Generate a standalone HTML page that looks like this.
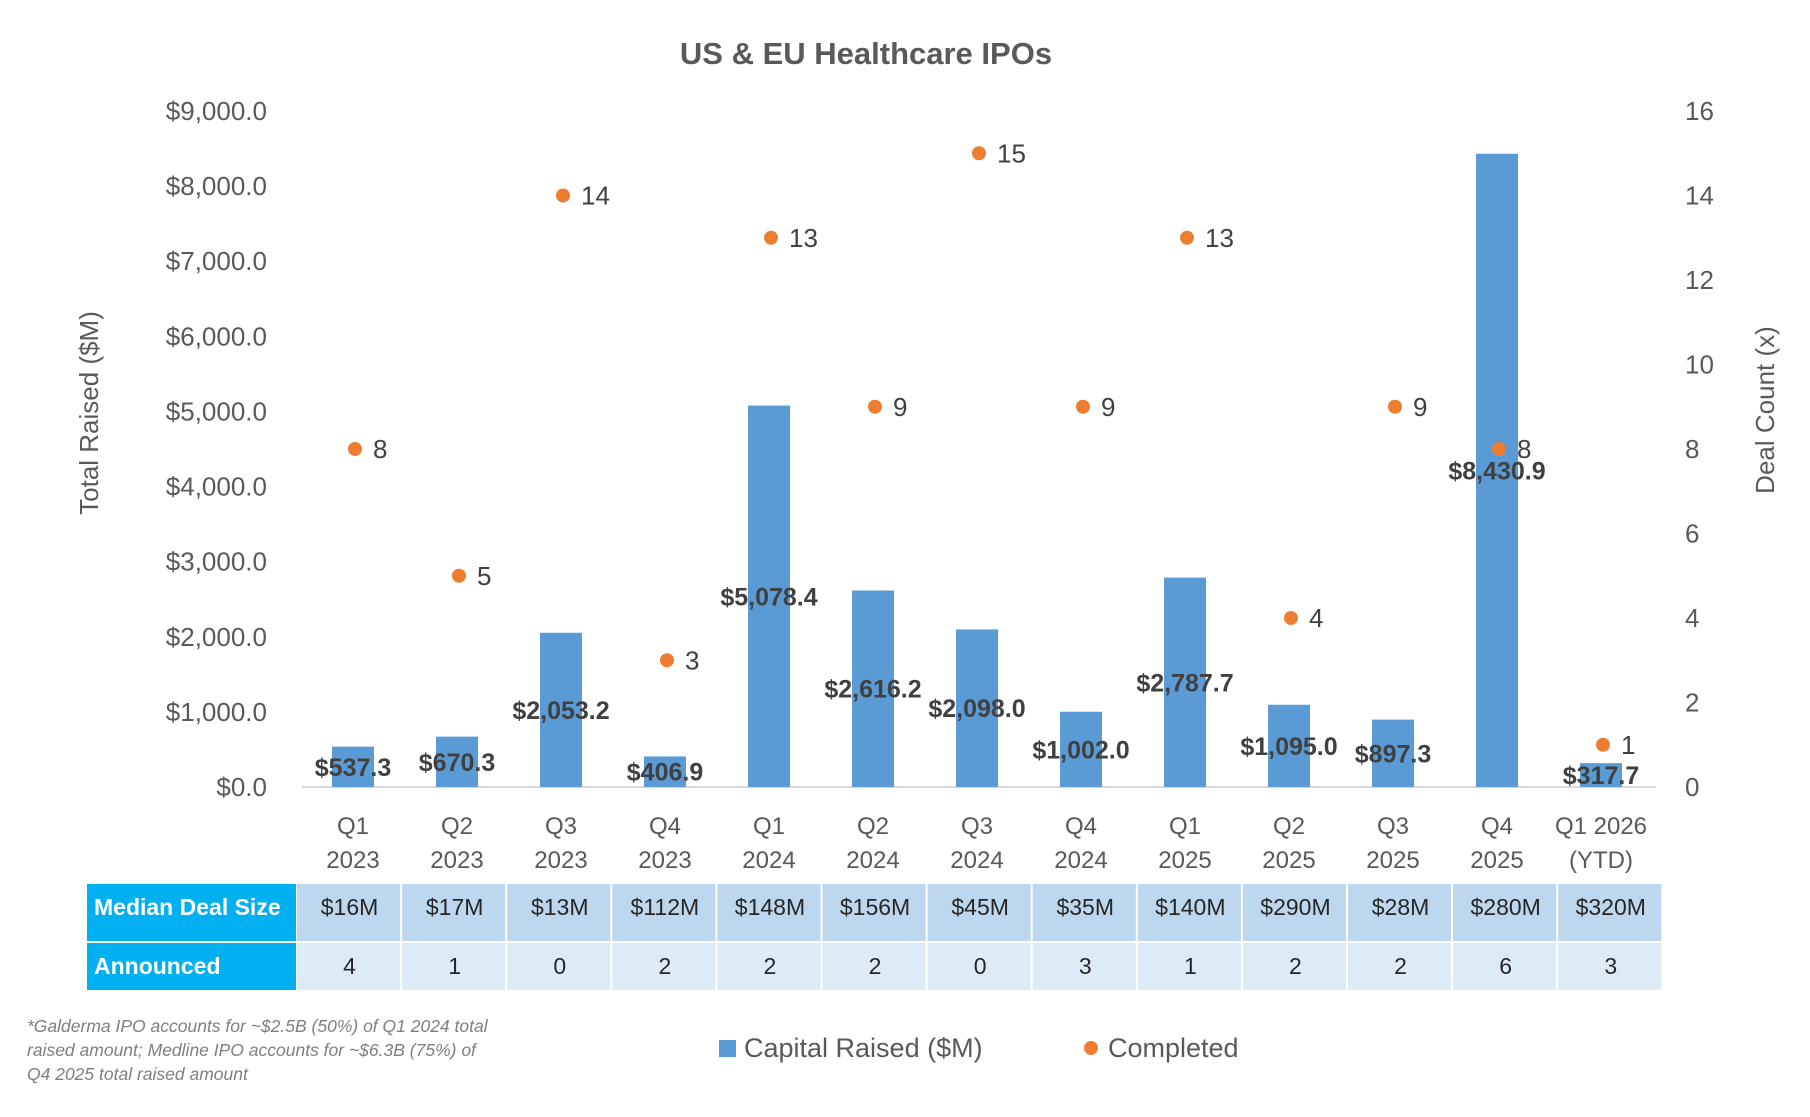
<!DOCTYPE html>
<html><head><meta charset="utf-8"><style>
body{margin:0;width:1810px;height:1112px;background:#fff;overflow:hidden;font-family:"Liberation Sans Narrow","Liberation Sans",sans-serif;}
svg text{font-family:"Liberation Sans Narrow","Liberation Sans",sans-serif;}
</style></head><body>
<svg id="chart" width="1810" height="1112" xmlns="http://www.w3.org/2000/svg">
<text x="866" y="64" text-anchor="middle" font-size="31" font-weight="bold" fill="#595959">US &amp; EU Healthcare IPOs</text>
<text transform="translate(98,413) rotate(-90)" text-anchor="middle" font-size="26" fill="#595959" style="font-family:'Liberation Sans',sans-serif">Total Raised ($M)</text>
<text transform="translate(1774,410) rotate(-90)" text-anchor="middle" font-size="26" fill="#595959" style="font-family:'Liberation Sans',sans-serif">Deal Count (x)</text>
<line x1="302" y1="787" x2="1656" y2="787" stroke="#d9d9d9" stroke-width="2"/>
<g id="g"></g>
<g font-size="17.5" font-style="italic" fill="#7f7f7f">
<text x="27" y="1032">*Galderma IPO accounts for ~$2.5B (50%) of Q1 2024 total</text>
<text x="27" y="1056">raised amount; Medline IPO accounts for ~$6.3B (75%) of</text>
<text x="27" y="1080">Q4 2025 total raised amount</text>
</g>
<g>
<rect x="719" y="1040" width="17" height="17" fill="#5B9BD5"/>
<text x="744" y="1057" font-size="27" fill="#595959">Capital Raised ($M)</text>
<circle cx="1091" cy="1048" r="7" fill="#ED7D31"/>
<text x="1108" y="1057" font-size="27" fill="#595959">Completed</text>
</g>
</svg>
<script>
const categoriesTop=["Q1","Q2","Q3","Q4","Q1","Q2","Q3","Q4","Q1","Q2","Q3","Q4","Q1 2026"];
const categoriesBottom=["2023","2023","2023","2023","2024","2024","2024","2024","2025","2025","2025","2025","(YTD)"];
const capitalRaised=[537.3,670.3,2053.2,406.9,5078.4,2616.2,2098.0,1002.0,2787.7,1095.0,897.3,8430.9,317.7];
const completed=[8,5,14,3,13,9,15,9,13,4,9,8,1];
const medianDealSize=["$16M","$17M","$13M","$112M","$148M","$156M","$45M","$35M","$140M","$290M","$28M","$280M","$320M"];
const announced=[4,1,0,2,2,2,0,3,1,2,2,6,3];
const leftTicks=[0,1000,2000,3000,4000,5000,6000,7000,8000,9000];
const rightTicks=[0,2,4,6,8,10,12,14,16];

const NS="http://www.w3.org/2000/svg";
const g=document.getElementById('g');
const y0=787,yTop=111;
const yL=v=>y0-(v/9000)*(y0-yTop);
const yR=v=>y0-(v/16)*(y0-yTop);
const xC=i=>353+i*104.0;
function mk(t,a,txt){const e=document.createElementNS(NS,t);for(const k in a)e.setAttribute(k,a[k]);if(txt!==undefined)e.textContent=txt;g.appendChild(e);return e;}
const fmt=v=>'$'+v.toLocaleString('en-US',{minimumFractionDigits:1,maximumFractionDigits:1});

leftTicks.forEach(v=>{const e=mk('text',{x:267,y:yL(v)+9,'text-anchor':'end','font-size':26,fill:'#595959'},fmt(v));

});
rightTicks.forEach(v=>{const e=mk('text',{x:1685,y:yR(v)+9,'font-size':26,fill:'#595959'},String(v));

});

capitalRaised.forEach((v,i)=>{
 const b=mk('rect',{x:xC(i)-21,y:yL(v),width:42,height:y0-yL(v),fill:'#5B9BD5'});
 
 
});
capitalRaised.forEach((v,i)=>{
 const t=mk('text',{x:xC(i),y:(yL(v)+y0)/2+9,'text-anchor':'middle','font-size':25,'font-weight':'bold',fill:'#404040'},fmt(v));
 
 
});
completed.forEach((v,i)=>{
 const c=mk('circle',{cx:xC(i)+2,cy:yR(v),r:7,fill:'#ED7D31'});
 
 
 const t=mk('text',{x:xC(i)+20,y:yR(v)+9,'font-size':26,fill:'#404040'},String(v));
 
 
});
categoriesTop.forEach((c,i)=>{
 const t1=mk('text',{x:xC(i),y:834,'text-anchor':'middle','font-size':24,fill:'#595959'},c);
 
 
 const t2=mk('text',{x:xC(i),y:868,'text-anchor':'middle','font-size':24,fill:'#595959'},categoriesBottom[i]);
 
 
});
// table
const tx0=297,cw=105.1,r1=884,r2=943,r3=990;
let h=mk('rect',{x:87,y:r1,width:209,height:r2-r1-2,fill:'#00B0F0'});


h=mk('rect',{x:87,y:r2,width:209,height:r3-r2,fill:'#00B0F0'});


let ht=mk('text',{x:94,y:r1+31,'font-size':23,'font-weight':'bold',fill:'#fff'},'Median Deal Size');


ht=mk('text',{x:94,y:r2+31,'font-size':23,'font-weight':'bold',fill:'#fff'},'Announced');


medianDealSize.forEach((m,i)=>{
 const x=tx0+i*cw;
 const a=mk('rect',{x:x,y:r1,width:cw-2,height:r2-r1-2,fill:'#BDD7EE'});
 
 
 const b=mk('rect',{x:x,y:r2,width:cw-2,height:r3-r2,fill:'#DDEBF7'});
 
 
 const t=mk('text',{x:x+cw/2,y:r1+31,'text-anchor':'middle','font-size':23,fill:'#262626'},m);
 
 
 const u=mk('text',{x:x+cw/2,y:r2+31,'text-anchor':'middle','font-size':23,fill:'#262626'},String(announced[i]));
 
 
});
</script>
</body></html>
